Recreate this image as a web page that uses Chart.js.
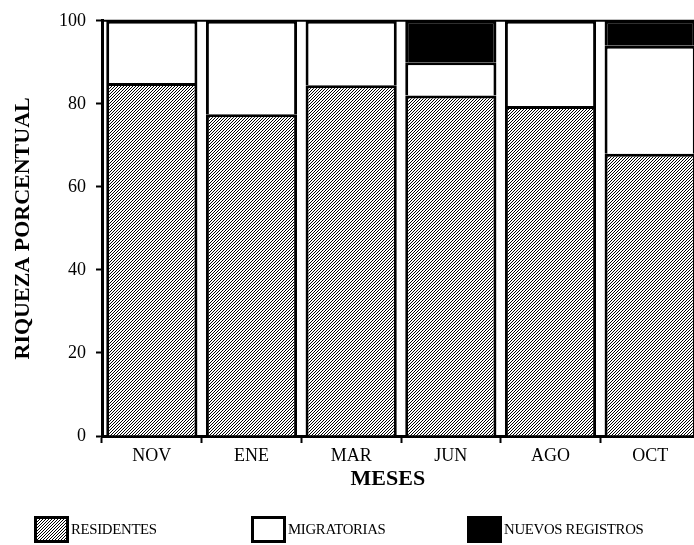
<!DOCTYPE html>
<html lang="es">
<head>
<meta charset="utf-8">
<title>Riqueza porcentual por mes</title>
<script src="https://cdn.jsdelivr.net/npm/chart.js@4"></script>
<style>
  html, body { margin: 0; padding: 0; background: #fff; overflow: hidden; }
  #wrap { position: relative; width: 704px; height: 545px; }
  #chart { display: block; }
  .legend-item {
    position: absolute; top: 516px; height: 27px;
    display: flex; align-items: center;
    font-family: 'Liberation Serif', 'Times New Roman', serif;
    font-size: 14.8px; color: #000; letter-spacing: -0.3px;
  }
  .sw {
    box-sizing: border-box; width: 35px; height: 27px;
    border: 3px solid #000; margin-right: 2px; background: #fff;
  }
</style>
</head>
<body>
<div id="wrap">
  <canvas id="chart" width="704" height="545"></canvas>
  <div class="legend-item" style="left:34px"><span class="sw" id="swRes"></span>RESIDENTES</div>
  <div class="legend-item" style="left:251px"><span class="sw"></span>MIGRATORIAS</div>
  <div class="legend-item" style="left:467px"><span class="sw" style="background:#000"></span>NUEVOS REGISTROS</div>
</div>
<script>
/* ---------- data ---------- */
const categories = ['NOV', 'ENE', 'MAR', 'JUN', 'AGO', 'OCT'];
const residentes = [85, 77.5, 84.5, 82, 79.5, 68];
const migratorias = [15, 22.5, 15.5, 8, 20.5, 26];
const nuevosRegistros = [0, 0, 0, 10, 0, 6];
const yTicks = [0, 20, 40, 60, 80, 100];

const SERIF = "'Liberation Serif', 'Times New Roman', serif";

/* ---------- hatch pattern (////), fine lines ---------- */
function makeHatch() {
  const c = document.createElement('canvas');
  c.width = 3; c.height = 3;
  const g = c.getContext('2d');
  g.fillStyle = '#fff';
  g.fillRect(0, 0, 3, 3);
  g.fillStyle = '#000';
  for (let i = 0; i < 3; i++) g.fillRect(i, 2 - i, 1, 1);
  return c;
}
const hatchCanvas = makeHatch();
const ctx = document.getElementById('chart').getContext('2d');
const hatch = ctx.createPattern(hatchCanvas, 'repeat');
document.getElementById('swRes').style.background = 'url(' + hatchCanvas.toDataURL() + ')';

// top frame line + x axis title (drawn a bit left of the plot centre, as in the original)
const frameAndTitle = {
  id: 'frameAndTitle',
  afterDraw(chart) {
    const { ctx, chartArea } = chart;
    ctx.save();
    ctx.strokeStyle = '#000';
    ctx.lineWidth = 2;
    ctx.beginPath();
    ctx.moveTo(chartArea.left, chartArea.top);
    ctx.lineTo(chartArea.right, chartArea.top);
    ctx.stroke();

    ctx.fillStyle = '#000';
    ctx.font = 'bold 22px ' + SERIF;
    ctx.textAlign = 'center';
    ctx.textBaseline = 'middle';
    const xs = chart.scales.x;
    ctx.fillText('MESES', chartArea.left + (chartArea.right - chartArea.left) * 0.478, xs.bottom - 21);
    ctx.restore();
  }
};

const border = { top: 3, left: 3, right: 3, bottom: 0 };

new Chart(ctx, {
  type: 'bar',
  data: {
    labels: categories,
    datasets: [
      { label: 'RESIDENTES', data: residentes, backgroundColor: hatch },
      { label: 'MIGRATORIAS', data: migratorias, backgroundColor: '#fff' },
      { label: 'NUEVOS REGISTROS', data: nuevosRegistros, backgroundColor: '#000' }
    ].map(d => Object.assign(d, {
      borderColor: '#000', borderWidth: border, borderSkipped: false,
      barPercentage: 0.915, categoryPercentage: 1
    }))
  },
  options: {
    responsive: false,
    animation: false,
    layout: { padding: { top: 18, right: 4, bottom: 45, left: 0 } },
    plugins: { legend: { display: false }, tooltip: { enabled: false } },
    scales: {
      x: {
        stacked: true,
        afterFit: s => { s.height = 64; },
        grid: { drawOnChartArea: false, drawTicks: true, tickLength: 7, tickWidth: 2, tickColor: '#000' },
        border: { display: true, color: '#000', width: 3 },
        ticks: { color: '#000', padding: 2, font: { family: SERIF, size: 18 } },
        title: { display: false }
      },
      y: {
        stacked: true,
        min: 0, max: 100,
        afterFit: s => { s.width = 102; },
        afterBuildTicks: s => { s.ticks = yTicks.map(v => ({ value: v })); },
        grid: { drawOnChartArea: false, drawTicks: true, tickLength: 6, tickWidth: 2, tickColor: '#000' },
        border: { display: true, color: '#000', width: 3 },
        ticks: { color: '#000', padding: 10, font: { family: SERIF, size: 18 } },
        title: { display: true, text: 'RIQUEZA PORCENTUAL', color: '#000', padding: { top: 10, bottom: 0 },
                 font: { family: SERIF, size: 22, weight: 'bold' } }
      }
    }
  },
  plugins: [frameAndTitle]
});
</script>
</body>
</html>
